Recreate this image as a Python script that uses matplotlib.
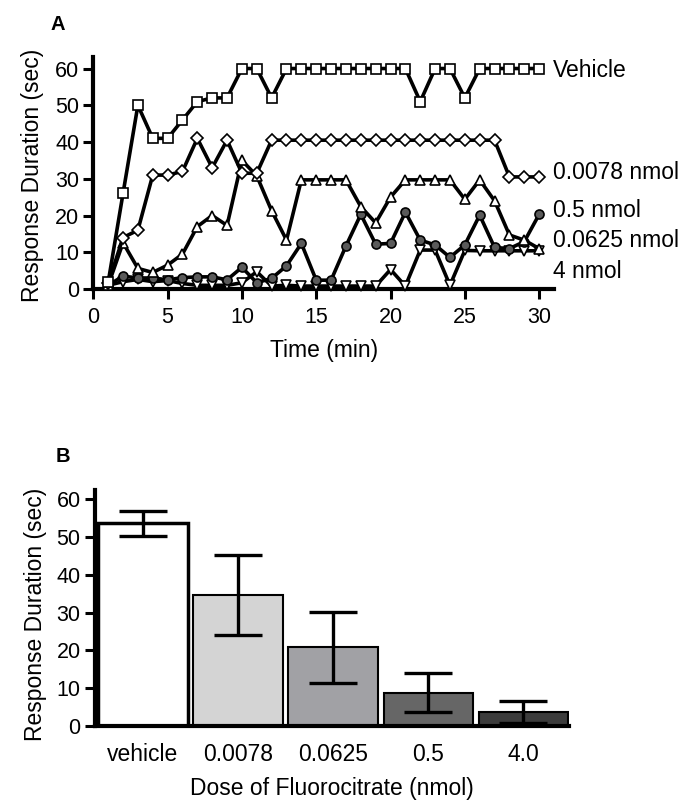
import matplotlib
matplotlib.use('Agg')
import matplotlib.pyplot as plt

plt.rcParams['font.family'] = ['Liberation Sans', 'DejaVu Sans']

# Panel A: response duration (sec) per minute, one list per dose
minutes = list(range(1, 31))
vehicle = [1.8, 26, 50, 41, 41, 46, 51, 52, 52, 60, 60, 52, 60, 60, 60,
           60, 60, 60, 60, 60, 60, 51, 60, 60, 52, 60, 60, 60, 60, 60]
dose_0078 = [1.5, 14, 16, 31, 31, 32, 41, 33, 40.5, 31.5, 31.5, 40.5, 40.5, 40.5, 40.5,
             40.5, 40.5, 40.5, 40.5, 40.5, 40.5, 40.5, 40.5, 40.5, 40.5, 40.5, 40.5, 30.5, 30.5, 30.5]
dose_0625 = [1, 12.6, 5.6, 4.5, 6.5, 9.5, 17, 20, 17.3, 35, 30.8, 21.3, 13.3, 29.7, 29.7,
             29.7, 29.7, 22.4, 18, 25, 29.7, 29.7, 29.7, 29.7, 24.4, 29.7, 24, 14.7, 13.3, 11]
dose_05 = [1, 3.5, 3, 3, 2.5, 3.1, 3.3, 3.3, 2.5, 5.9, 1.7, 2.9, 6.3, 12.4, 2.4,
           2.4, 11.7, 20.3, 12.2, 12.4, 20.9, 13.3, 12, 8.6, 12, 20.1, 11.3, 11, 12.9, 20.3]
dose_4 = [1, 2, 2.6, 2, 2.3, 1.5, 1, 1, 1, 1.7, 4.7, 0.8, 1, 0.8, 0.8,
          0.8, 0.8, 0.8, 0.8, 5.3, 0.8, 10.6, 10.6, 1, 10.5, 10.4, 10.4, 10.4, 10.4, 10.4]

# Panel B: mean response duration with error
doses = ['vehicle', '0.0078', '0.0625', '0.5', '4.0']
means = [53.6, 34.7, 20.8, 8.8, 3.6]
errors = [3.3, 10.6, 9.3, 5.2, 2.9]
bar_colors = ['white', '#d4d4d4', '#a1a1a5', '#666666', '#3c3c3c']

fig = plt.figure(figsize=(6.93, 8.11), dpi=100)

# ---------- Panel A ----------
axA = fig.add_axes([93.3 / 693, 1 - 289 / 811, 460.7 / 693, 231.5 / 811])

line_kw = dict(color='black', lw=2.6, clip_on=False, markeredgecolor='black', markeredgewidth=1.2)
axA.plot(minutes, dose_4, marker='v', ms=7.5, mfc='white', zorder=3, **line_kw)
axA.plot(minutes, dose_05, marker='o', ms=6.5, mfc='#5a5a5a', zorder=4, **line_kw)
axA.plot(minutes, dose_0625, marker='^', ms=7.5, mfc='white', zorder=5, **line_kw)
axA.plot(minutes, dose_0078, marker='D', ms=6.3, mfc='white', zorder=6, **line_kw)
axA.plot(minutes, vehicle, marker='s', ms=7.2, mfc='white', zorder=7, **line_kw)

axA.set_xlim(0, 31)
axA.set_ylim(0, 63)
axA.set_xticks([0, 5, 10, 15, 20, 25, 30])
axA.set_yticks([0, 10, 20, 30, 40, 50, 60])
axA.spines['top'].set_visible(False)
axA.spines['right'].set_visible(False)
axA.spines['left'].set_linewidth(3)
axA.spines['bottom'].set_linewidth(3)
axA.tick_params(length=7, width=2.2, labelsize=15.5, pad=3)
axA.tick_params(axis='x', pad=6)
axA.set_xlabel('Time (min)', fontsize=16.5, labelpad=8)
axA.set_ylabel('Response Duration (sec)', fontsize=16.5)
axA.yaxis.set_label_coords(-0.108, 0.49)

# series labels at the right end
end_labels = ['Vehicle', '0.0078 nmol', '0.5 nmol', '0.0625 nmol', '4 nmol']
label_y = [57.8, 29.85, 19.7, 11.35, 2.9]
for lab, yy in zip(end_labels, label_y):
    axA.text(30.9, yy, lab, fontsize=16.5, va='baseline', ha='left', clip_on=False)

fig.text(58 / 693, 1 - 24.5 / 811, 'A', fontsize=14.5, fontweight='bold', ha='center', va='center')

# ---------- Panel B ----------
axB = fig.add_axes([94.5 / 693, 1 - 726 / 811, 474.4 / 693, 236 / 811])
xpos = range(len(doses))
bars = axB.bar(xpos, means, width=0.94, color=bar_colors, edgecolor='black', linewidth=1.5, zorder=2)
bars[0].set_linewidth(2.5)
axB.errorbar(xpos, means, yerr=errors, fmt='none', ecolor='black', elinewidth=2.4,
             capsize=17, capthick=2.4, zorder=3)

axB.set_xlim(-0.51, 4.48)
axB.set_ylim(0, 62.4)
axB.set_xticks(list(xpos))
axB.set_xticklabels(doses)
axB.set_yticks([0, 10, 20, 30, 40, 50, 60])
axB.spines['top'].set_visible(False)
axB.spines['right'].set_visible(False)
axB.spines['left'].set_linewidth(3)
axB.spines['bottom'].set_linewidth(3)
axB.tick_params(axis='y', length=7, width=2.2, labelsize=15.5, pad=3)
axB.tick_params(axis='x', length=0, labelsize=16.5, pad=12)
axB.set_xlabel('Dose of Fluorocitrate (nmol)', fontsize=16.5, labelpad=8)
axB.set_ylabel('Response Duration (sec)', fontsize=16.5)
axB.yaxis.set_label_coords(-0.101, 0.475)

fig.text(62.5 / 693, 1 - 456 / 811, 'B', fontsize=14.5, fontweight='bold', ha='center', va='center')

fig.savefig('out.png', dpi=100)
